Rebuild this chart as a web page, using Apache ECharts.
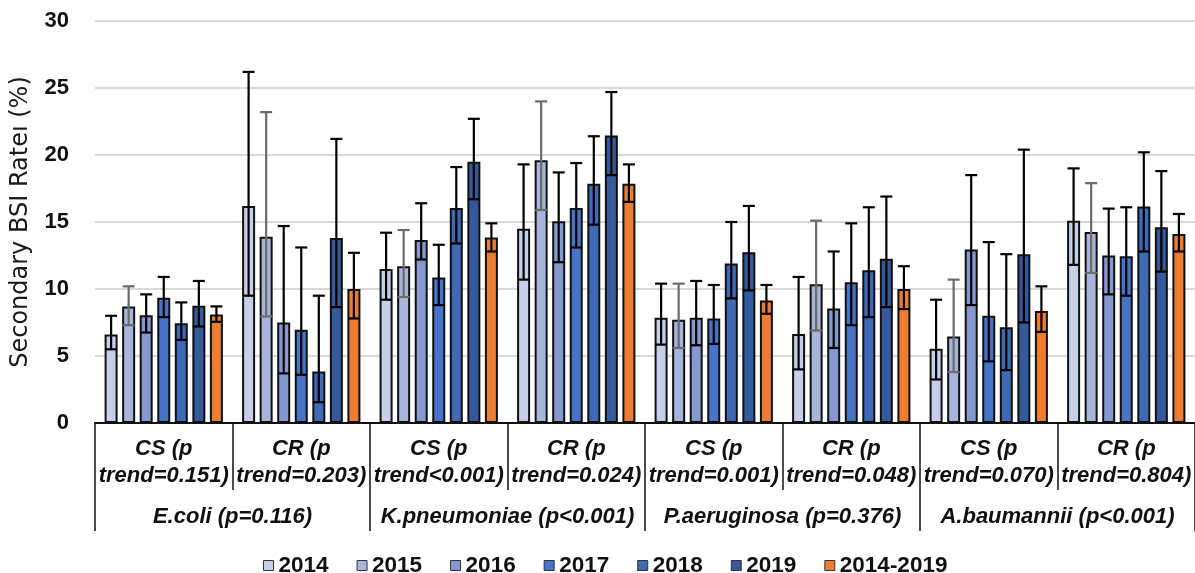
<!DOCTYPE html>
<html>
<head>
<meta charset="utf-8">
<script src="https://cdn.jsdelivr.net/npm/echarts@6/dist/echarts.min.js"></script>
<style>
html,body{margin:0;padding:0;background:#fff;}
#chart{width:1195px;height:573px;}
</style>
</head>
<body>
<div id="chart"></div>
<script>
var categories = [
  'CS (p\ntrend=0.151)', 'CR (p\ntrend=0.203)',
  'CS (p\ntrend<0.001)', 'CR (p\ntrend=0.024)',
  'CS (p\ntrend=0.001)', 'CR (p\ntrend=0.048)',
  'CS (p\ntrend=0.070)', 'CR (p\ntrend=0.804)'
];
var groups = ['E.coli (p=0.116)', 'K.pneumoniae (p<0.001)', 'P.aeruginosa (p=0.376)', 'A.baumannii (p<0.001)'];
var years = ['2014', '2015', '2016', '2017', '2018', '2019', '2014-2019'];
var yTicks = [0, 5, 10, 15, 20, 25, 30];

var mean2014 = [6.6, 16.2, 11.5, 14.5, 7.85, 6.65, 5.55, 15.1];
var low2014  = [5.5, 9.5, 9.2, 10.7, 5.85, 4.0, 3.25, 11.8];
var high2014 = [8.0, 26.2, 14.2, 19.3, 10.4, 10.9, 9.2, 19.0];

var mean2015 = [8.7, 13.9, 11.7, 19.6, 7.7, 10.35, 6.45, 14.25];
var low2015  = [7.3, 7.95, 9.4, 15.9, 5.6, 6.9, 3.8, 11.2];
var high2015 = [10.2, 23.2, 14.4, 24.0, 10.4, 15.1, 10.7, 17.9];

var mean2016 = [8.05, 7.5, 13.65, 15.05, 7.85, 8.55, 12.95, 12.5];
var low2016  = [6.75, 3.7, 12.2, 12.0, 5.8, 5.6, 8.8, 9.6];
var high2016 = [9.6, 14.7, 16.4, 18.7, 10.6, 12.8, 18.5, 16.0];

var mean2017 = [9.35, 6.95, 10.85, 16.05, 7.8, 10.5, 8.0, 12.45];
var low2017  = [7.9, 3.6, 8.8, 13.1, 5.9, 7.3, 4.6, 9.5];
var high2017 = [10.9, 13.1, 13.3, 19.4, 10.3, 14.9, 13.5, 16.1];

var mean2018 = [7.45, 3.85, 16.05, 17.85, 11.9, 11.4, 7.15, 16.15];
var low2018  = [6.2, 1.55, 13.4, 14.8, 9.3, 7.9, 3.95, 12.8];
var high2018 = [9.0, 9.5, 19.1, 21.4, 15.0, 16.1, 12.6, 20.2];

var mean2019 = [8.75, 13.8, 19.5, 21.45, 12.75, 12.25, 12.6, 14.6];
var low2019  = [7.2, 8.65, 16.7, 18.5, 9.9, 8.65, 7.5, 11.3];
var high2019 = [10.6, 21.2, 22.7, 24.7, 16.2, 16.9, 20.4, 18.8];

var meanAll = [8.1, 10.0, 13.85, 17.85, 9.15, 10.0, 8.35, 14.1];
var lowAll  = [7.55, 7.8, 12.8, 16.5, 8.15, 8.5, 6.8, 12.8];
var highAll = [8.7, 12.7, 14.9, 19.3, 10.3, 11.7, 10.2, 15.6];

var means = [mean2014, mean2015, mean2016, mean2017, mean2018, mean2019, meanAll];
var lows  = [low2014, low2015, low2016, low2017, low2018, low2019, lowAll];
var highs = [high2014, high2015, high2016, high2017, high2018, high2019, highAll];

var colors = ['#c5cfe8', '#a8b5da', '#8599d0', '#4874c8', '#3f69b5', '#345a9c', '#ed7d31'];
var errColors = ['#000', '#6b6b6b', '#000', '#000', '#000', '#000', '#000'];

var BAR_W = 13, BAR_GAP = 0.35;
var STEP = BAR_W * (1 + BAR_GAP);
var FONT = '"Liberation Sans", Arial, sans-serif';

var series = [];
years.forEach(function (y, k) {
  series.push({
    name: y,
    type: 'bar',
    xAxisIndex: 0,
    barWidth: BAR_W,
    barGap: (BAR_GAP * 100) + '%',
    data: means[k],
    itemStyle: { color: colors[k], borderColor: '#111', borderWidth: 2 },
    z: 2
  });
});
years.forEach(function (y, k) {
  var d = lows[k].map(function (lo, i) { return [i, lo, highs[k][i]]; });
  series.push({
    name: 'err' + y,
    type: 'custom',
    xAxisIndex: 0,
    z: 5,
    silent: true,
    data: d,
    renderItem: function (params, api) {
      var i = api.value(0);
      var pLo = api.coord([i, api.value(1)]);
      var pHi = api.coord([i, api.value(2)]);
      var x = pLo[0] + (k - 3) * STEP;
      var hw = 6;
      var st = { stroke: errColors[k], lineWidth: 2.2 };
      return {
        type: 'group',
        children: [
          { type: 'line', shape: { x1: x, y1: pLo[1], x2: x, y2: pHi[1] }, style: st },
          { type: 'line', shape: { x1: x - hw, y1: pHi[1], x2: x + hw, y2: pHi[1] }, style: st },
          { type: 'line', shape: { x1: x - hw, y1: pLo[1], x2: x + hw, y2: pLo[1] }, style: st }
        ]
      };
    }
  });
});

var chart = echarts.init(document.getElementById('chart'));
chart.setOption({
  animation: false,
  backgroundColor: '#fff',
  textStyle: { fontFamily: FONT },
  grid: { left: 95, right: -1, top: 21, bottom: 150 },
  legend: {
    data: years,
    top: 549,
    left: 258,
    itemWidth: 10,
    itemHeight: 10,
    itemGap: 28,
    itemTextGap: 3,
    icon: 'rect',
    itemStyle: { borderWidth: 1, borderColor: '#333' },
    textStyle: { fontSize: 22.5, fontWeight: 'bold', color: '#111', fontFamily: FONT }
  },
  xAxis: [
    {
      type: 'category',
      data: categories,
      position: 'bottom',
      axisLine: { show: true, lineStyle: { color: '#111', width: 2 } },
      axisTick: { show: true, length: 67, interval: 0, lineStyle: { color: '#111', width: 1.5 } },
      axisLabel: {
        interval: 0, margin: 12, fontSize: 22, fontWeight: 'bold', fontStyle: 'italic',
        color: '#111', lineHeight: 27, fontFamily: FONT
      }
    },
    {
      type: 'category',
      data: groups,
      position: 'bottom',
      axisLine: { show: false },
      axisTick: { show: true, length: 108, interval: 0, lineStyle: { color: '#111', width: 1.5 } },
      axisLabel: {
        interval: 0, margin: 83, fontSize: 22, fontWeight: 'bold', fontStyle: 'italic',
        color: '#111', fontFamily: FONT
      }
    }
  ],
  yAxis: {
    type: 'value',
    min: yTicks[0],
    max: yTicks[yTicks.length - 1],
    interval: yTicks[1] - yTicks[0],
    name: 'Secondary BSI Rateı (%)',
    nameLocation: 'middle',
    nameGap: 62,
    nameTextStyle: { fontSize: 24, color: '#1a1a1a', fontFamily: '"DejaVu Sans", sans-serif' },
    axisLine: { show: false },
    axisTick: { show: false },
    axisLabel: { fontSize: 22, fontWeight: 'bold', color: '#111', margin: 26, fontFamily: FONT },
    splitLine: { lineStyle: { color: '#d9d9d9', width: 2 } }
  },
  series: series
});
</script>
</body>
</html>
